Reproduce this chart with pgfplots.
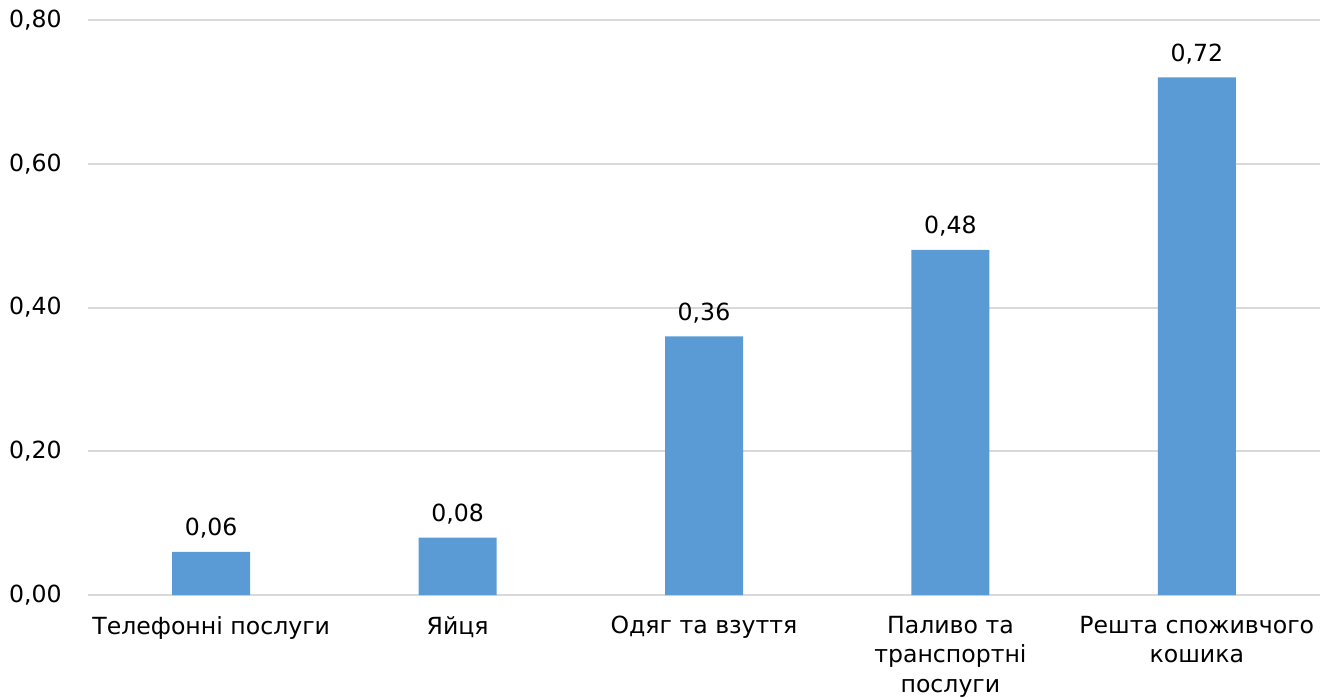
\documentclass[border=0pt]{standalone}
\usepackage{pgfplots}
\pgfplotsset{compat=1.18}
\usepackage{fontspec}
\setmainfont{DejaVu Sans}
\definecolor{barblue}{HTML}{5B9BD5}
\definecolor{gridgray}{HTML}{D9D9D9}
\begin{document}
\fontsize{11.8pt}{14.6pt}\selectfont
\begin{tikzpicture}
\begin{axis}[
  name=ax,
  scale only axis,
  width=616pt, height=287.5pt,
  xmin=-0.5, xmax=4.5,
  ymin=0, ymax=0.8,
  ytick={0,0.2,0.4,0.6,0.8},
  xtick=data,
  xticklabels={Телефонні послуги, Яйця, Одяг та взуття, {Паливо та\\транспортні\\послуги}, {Решта споживчого\\кошика}},
  major tick length=0pt,
  axis line style={draw=none},
  ymajorgrids,
  grid style={gridgray, line width=1pt},
  yticklabel style={anchor=east, inner sep=0pt, xshift=-13pt},
  xticklabel style={anchor=north, inner sep=0pt, align=center, yshift=-10.5pt},
  ybar,
  bar width=39pt,
  nodes near coords,
  nodes near coords style={anchor=base, inner sep=0pt, yshift=8pt, text=black},
  /pgf/number format/.cd, use comma, fixed, fixed zerofill, precision=2, assume math mode=true
]
\addplot[fill=barblue, draw=none] coordinates {(0,0.06) (1,0.08) (2,0.36) (3,0.48) (4,0.72)};
\end{axis}
\pgfresetboundingbox
\useasboundingbox ([xshift=-44pt, yshift=-51pt]ax.south west) rectangle ([xshift=1.5pt, yshift=10pt]ax.north east);
\end{tikzpicture}
\end{document}
